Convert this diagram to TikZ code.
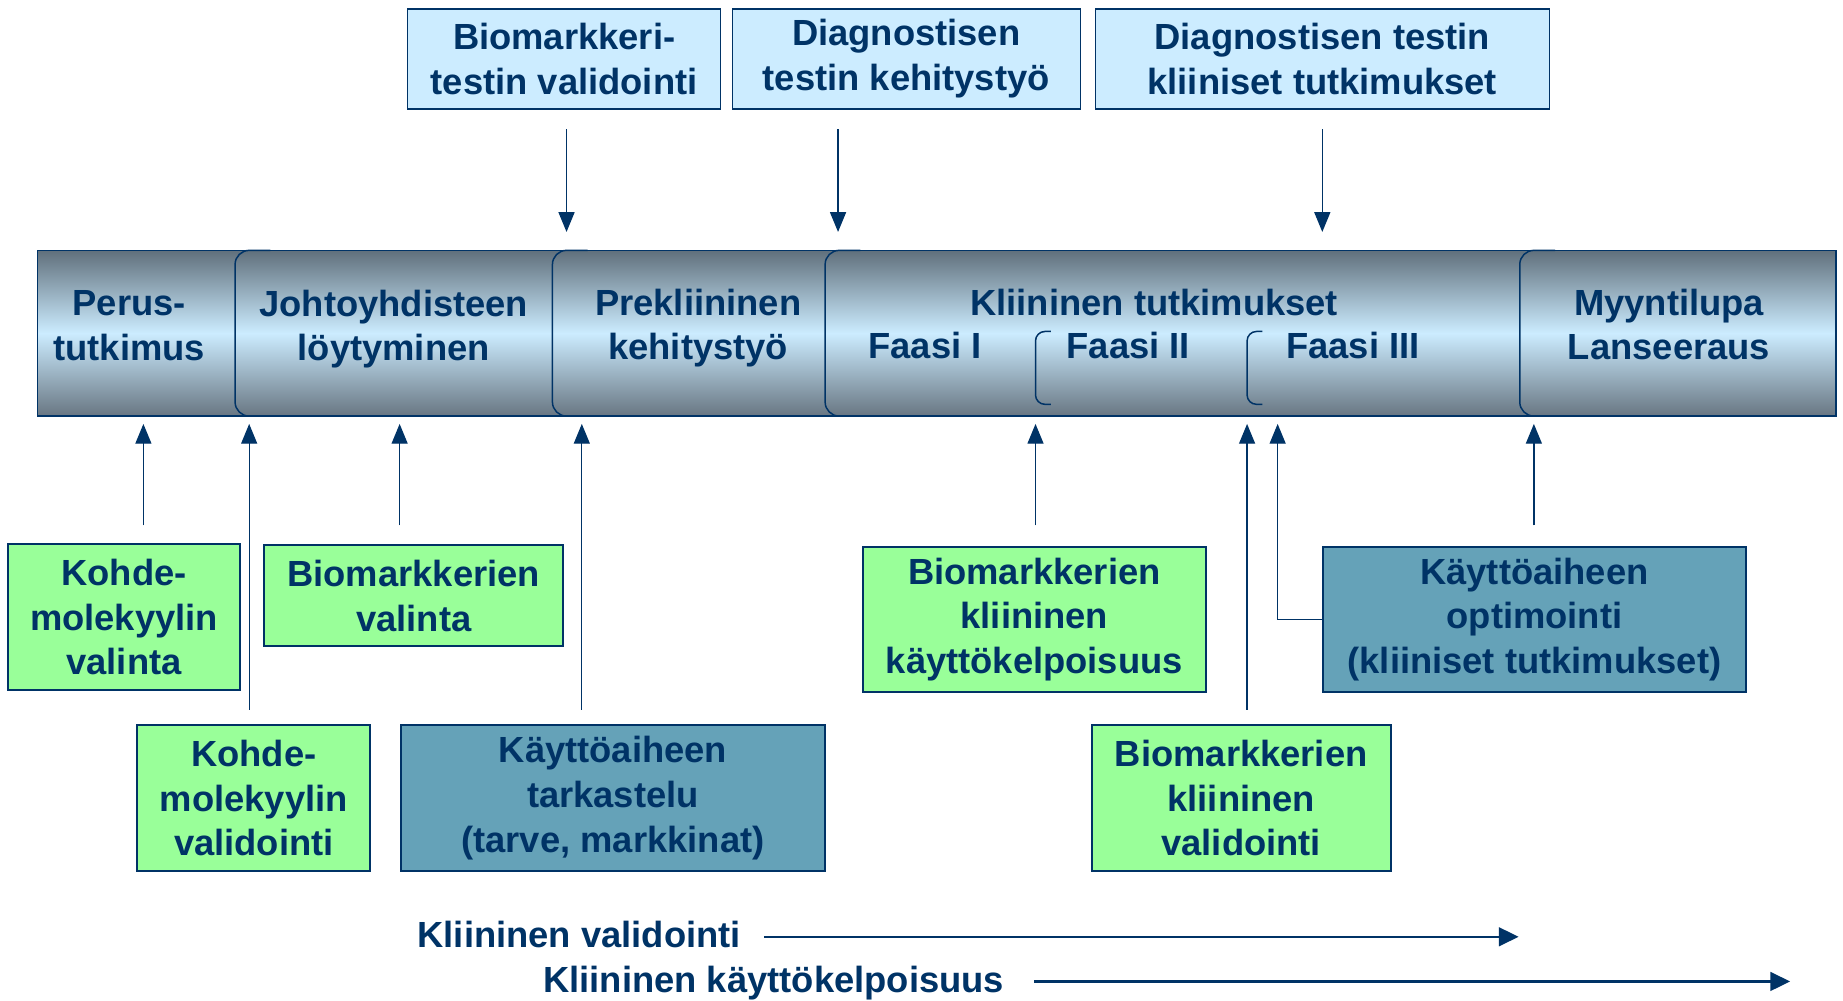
\documentclass[tikz,border=0pt]{standalone}
\usepackage{fontspec}
\setmainfont{Liberation Sans}
\usetikzlibrary{arrows.meta}
\definecolor{navy}{RGB}{0,51,102}
\definecolor{paleblue}{RGB}{204,236,255}
\definecolor{mint}{RGB}{153,255,153}
\definecolor{steelfill}{RGB}{101,162,184}
\definecolor{bartop}{RGB}{96,112,124}
\definecolor{barbot}{RGB}{104,118,130}
\tikzset{
  txt/.style={text=navy, font=\fontsize{22}{27}\selectfont\bfseries, align=center},
  topbox/.style={txt, draw=navy, line width=0.7pt, fill=paleblue, inner sep=0pt,
    minimum height=2.15cm,
    path picture={
      \draw[navy, line width=2.6pt] (path picture bounding box.north west) -- (path picture bounding box.north east);
      \draw[navy, line width=2.2pt] (path picture bounding box.south west) -- (path picture bounding box.south east);
    }},
  greenbox/.style={txt, draw=navy, line width=1.2pt, fill=mint, inner sep=0pt, minimum height=3.1cm},
  steelbox/.style={txt, draw=navy, line width=1.2pt, fill=steelfill, inner sep=0pt, minimum height=3.1cm},
  barbox/.style={draw=navy, line width=0.9pt, top color=bartop, bottom color=barbot, middle color=paleblue, inner sep=0pt},
  phaseline/.style={draw=navy, line width=0.9pt, rounded corners=0.3cm},
  bracket/.style={draw=navy, line width=0.9pt, rounded corners=0.2cm},
  arr/.style={navy, line width=0.8pt, -{Triangle[length=0.42cm, width=0.34cm]}},
  longarr/.style={navy, line width=1.3pt, -{Triangle[length=0.42cm, width=0.4cm]}}
}
\begin{document}
\begin{tikzpicture}[x=0.025cm, y=-0.025cm]
\useasboundingbox (0,0) rectangle (1568,851);

% top boxes
\node[topbox, minimum width=6.65cm] (bvalid) at (480,50) {Biomarkkeri-\\testin validointi};
\node[topbox, minimum width=7.4cm] (dkehit) at (771,50) {Diagnostisen\\testin kehitystyö};
\node[topbox, minimum width=9.65cm] (dklin) at (1125,50) {Diagnostisen testin\\kliiniset tutkimukset};

% the bar
\node[barbox, minimum width=38.25cm, minimum height=3.525cm] (bar) at (797,283.5) {};
\foreach \x in {200,470,702,1293}
  \draw[phaseline] (\x+30,213) -- (\x,213) -- (\x,354) -- (\x+30,354);
\draw[bracket] (894,282) -- (881,282) -- (881,344) -- (894,344);
\draw[bracket] (1074,282) -- (1061,282) -- (1061,344) -- (1074,344);

\node[txt] (perus) at (110,277) {Perus-\\tutkimus};
\node[txt] (johto) at (335,280) {Johtoyhdisteen\\löytyminen};
\node[txt] (prekl) at (594,279) {Prekliininen\\kehitystyö};
\node[txt] (kltutk) at (982,257) {Kliininen tutkimukset};
\node[txt] (faasi1) at (787,294) {Faasi I};
\node[txt] (faasi2) at (960,294) {Faasi II};
\node[txt] (faasi3) at (1151,294) {Faasi III};
\node[txt] (myynti) at (1420,276) {Myyntilupa\\Lanseeraus};

% down arrows
\coordinate (d1) at (482,110);
\coordinate (d2) at (713,110);
\coordinate (d3) at (1125,110);
\foreach \d in {d1,d2,d3}
  \draw[arr, shorten >=0.375cm] (\d) -- (\d |- bar.north);

% lower boxes
\node[greenbox, minimum width=4.925cm] (kvalinta) at (105.5,525) {Kohde-\\molekyylin\\valinta};
\node[greenbox, minimum width=6.35cm, minimum height=2.15cm] (bvalinta) at (352,507) {Biomarkkerien\\valinta};
\node[greenbox, minimum width=4.95cm] (kvalid) at (216,679) {Kohde-\\molekyylin\\validointi};
\node[steelbox, minimum width=9.025cm] (ktark) at (521.5,679) {Käyttöaiheen\\tarkastelu\\(tarve, markkinat)};
\node[greenbox, minimum width=7.3cm] (bkaytto) at (880,527) {Biomarkkerien\\kliininen\\käyttökelpoisuus};
\node[steelbox, minimum width=8.975cm] (kopt) at (1305.5,527) {Käyttöaiheen\\optimointi\\(kliiniset tutkimukset)};
\node[greenbox, minimum width=6.35cm] (bkvalid) at (1056,679) {Biomarkkerien\\kliininen\\validointi};

% up arrows
\coordinate (u1) at (122,447);
\coordinate (u2) at (212,604);
\coordinate (u3) at (340,447);
\coordinate (u4) at (495,604);
\coordinate (u5) at (881,447);
\coordinate (u6) at (1061,604);
\coordinate (u8) at (1305,447);
\foreach \u in {u1,u2,u3,u4,u5,u6,u8}
  \draw[arr, shorten >=0.15cm] (\u) -- (\u |- bar.south);
\coordinate (elbow) at (1087,527);
\draw[arr, shorten >=0.15cm] (kopt.west) -- (elbow) -- (elbow |- bar.south);

% bottom arrows
\node[txt, anchor=west, inner sep=0pt] (kval) at (355,795) {Kliininen validointi};
\node[txt, anchor=west, inner sep=0pt] (kkay) at (462,836) {Kliininen käyttökelpoisuus};
\coordinate (kvalend) at (1292,797);
\coordinate (kkayend) at (1523,835);
\draw[longarr] (kvalend -| 650,0) -- (kvalend);
\draw[longarr] (kkayend -| 880,0) -- (kkayend);

\end{tikzpicture}
\end{document}
